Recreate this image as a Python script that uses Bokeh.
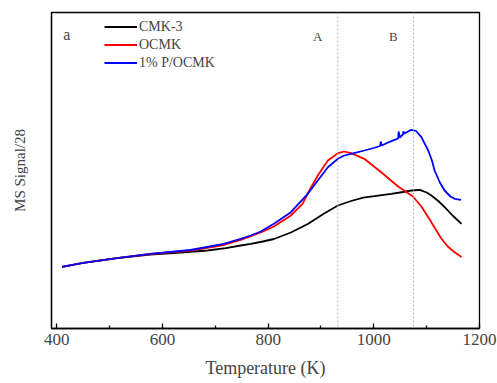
from bokeh.plotting import figure
from bokeh.models import FixedTicker, Span, Label, Legend, LegendItem, Range1d
from bokeh.embed import file_html
from bokeh.resources import INLINE

# ---- data (temperature in K, MS signal in arbitrary units) ----
t_cmk3 = [410, 450, 514, 577, 621, 685, 720, 748, 767, 790, 811, 843, 875, 906, 932,
          957, 980, 1001, 1033, 1055, 1071, 1087, 1100, 1109, 1122, 1134, 1150, 1166]
s_cmk3 = [61.7, 65.7, 70.3, 74.0, 75.5, 78.0, 80.3, 83.0, 84.7, 87.0, 89.5, 96.0, 104.5, 115.0, 123.0,
          127.5, 130.8, 132.3, 134.7, 136.5, 138.0, 138.7, 136.0, 133.0, 127.5, 121.3, 112.5, 104.7]

t_ocmk = [410, 450, 514, 577, 653, 716, 748, 786, 811, 843, 865, 878, 894, 913,
          932, 944, 957, 982, 1014, 1046, 1074, 1090, 1103, 1116, 1128, 1140, 1153, 1166]
s_ocmk = [61.7, 65.7, 70.3, 74.5, 78.0, 83.5, 88.7, 96.0, 102.0, 113.0, 124.7, 138.0, 153.0, 168.0,
          175.3, 177.0, 175.3, 169.7, 156.3, 142.0, 132.0, 122.0, 111.3, 100.0, 89.7, 82.0, 76.3, 71.5]

t_pocmk = [410, 450, 514, 577, 653, 716, 748, 767, 786, 811, 843, 875, 894, 913, 932,
           944, 957, 982, 1000, 1012, 1013, 1015, 1025, 1039, 1046, 1047, 1049, 1055, 1056, 1058,
           1065, 1071, 1080, 1090, 1103, 1110, 1115, 1125, 1134, 1145, 1153, 1165]
s_pocmk = [61.7, 65.7, 70.3, 74.7, 78.5, 84.7, 89.7, 93.0, 97.0, 104.7, 116.3, 134.7, 148.0, 161.3, 169.7,
           173.0, 174.7, 178.0, 180.5, 182.5, 187.0, 183.0, 185.5, 188.7, 190.0, 197.0, 191.0, 194.0, 197.0, 195.0,
           197.0, 198.7, 197.5, 191.3, 178.0, 168.0, 158.0, 146.0, 138.0, 132.0, 129.7, 128.7]

series_names = ["CMK-3", "OCMK", "1% P/OCMK"]
series_colors = ["black", "#ff0000", "#0000ff"]
x_ticks = [400, 600, 800, 1000, 1200]
x_minor = [500, 700, 900, 1100]
marker_T = [932, 1075]
marker_labels = ["A", "B"]

FONT = "Liberation Serif"

p = figure(width=497, height=383, output_backend="svg", toolbar_location=None,
           x_range=Range1d(390, 1200), y_range=Range1d(0, 316),
           min_border_left=51, min_border_right=18, min_border_top=12, min_border_bottom=55)
p.xgrid.visible = False
p.ygrid.visible = False
p.outline_line_color = "black"
p.outline_line_width = 1.3
p.background_fill_color = "white"
p.border_fill_color = "white"

xa = p.xaxis[0]
xa.ticker = FixedTicker(ticks=x_ticks, minor_ticks=x_minor)
xa.major_tick_in = 5
xa.major_tick_out = 0
xa.minor_tick_in = 3
xa.minor_tick_out = 0
xa.axis_line_width = 1.3
xa.major_tick_line_width = 1.3
xa.minor_tick_line_width = 1.3
xa.major_label_text_font = FONT
xa.major_label_text_font_size = "17px"
xa.major_label_standoff = 5
xa.axis_label = "Temperature (K)"
xa.axis_label_text_font = FONT
xa.axis_label_text_font_size = "18px"
xa.axis_label_text_font_style = "normal"
xa.axis_label_standoff = 10

ya = p.yaxis[0]
ya.ticker = FixedTicker(ticks=[])
ya.major_tick_line_color = None
ya.minor_tick_line_color = None
ya.axis_line_width = 1.3
ya.axis_label = "MS Signal/28"
ya.axis_label_text_font = FONT
ya.axis_label_text_font_size = "15px"
ya.axis_label_text_font_style = "normal"
ya.axis_label_standoff = 24

for tm, lab in zip(marker_T, marker_labels):
    p.add_layout(Span(location=tm, dimension="height", line_color="#b0b0b0",
                      line_dash="2 2", line_width=1))
    p.add_layout(Label(x=tm - 38, y=292, text=lab, text_font=FONT, text_font_size="13px",
                       text_align="center", text_baseline="middle"))

p.add_layout(Label(x=419, y=294, text="a", text_font=FONT, text_font_size="16px",
                   text_align="center", text_baseline="middle"))

r1 = p.line(t_cmk3, s_cmk3, line_color=series_colors[0], line_width=1.8)
r2 = p.line(t_ocmk, s_ocmk, line_color=series_colors[1], line_width=1.8)
r3 = p.line(t_pocmk, s_pocmk, line_color=series_colors[2], line_width=1.8)

legend = Legend(items=[LegendItem(label=series_names[0], renderers=[r1]),
                       LegendItem(label=series_names[1], renderers=[r2]),
                       LegendItem(label=series_names[2], renderers=[r3])],
                location=(53, 257), orientation="vertical")
legend.border_line_color = None
legend.background_fill_alpha = 0
legend.margin = 0
legend.padding = 0
legend.spacing = 1
legend.glyph_width = 33
legend.glyph_height = 17
legend.label_height = 17
legend.label_standoff = 2
legend.label_text_font = FONT
legend.label_text_font_size = "14px"
p.add_layout(legend)

open("out.html", "w").write(file_html(p, INLINE))
